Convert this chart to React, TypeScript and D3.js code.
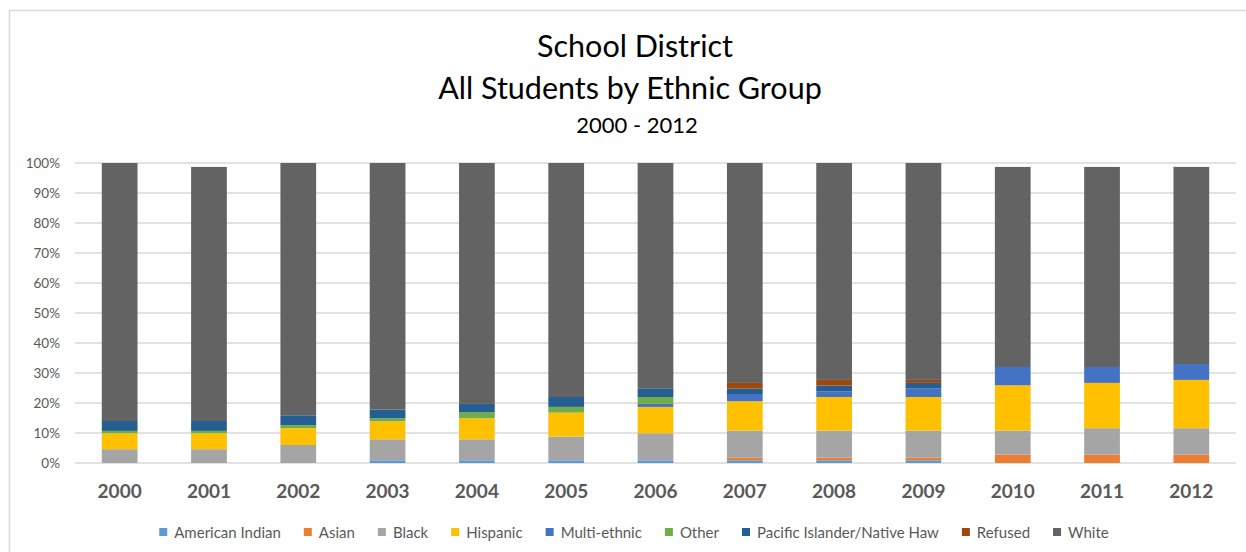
import React from "react";
import * as d3 from "d3";

const years = ["2000","2001","2002","2003","2004","2005","2006","2007","2008","2009","2010","2011","2012"];
const seriesNames = ["American Indian","Asian","Black","Hispanic","Multi-ethnic","Other","Pacific Islander/Native Haw","Refused","White"];
const seriesColors = ["#5B9BD5","#ED7D31","#A5A5A5","#FFC000","#4472C4","#70AD47","#255E91","#9E480E","#636363"];

const americanIndian = [0,0,0,0.9,0.9,0.9,0.9,0.9,0.9,0.9,0,0,0];
const asian = [0,0,0,0,0,0,0,0.9,0.9,0.9,2.8,2.8,2.8];
const black = [4.6,4.6,6,7,7,7.9,9,9,9,9,8,8.8,8.8];
const hispanic = [5.3,5.3,5.6,6,7,8,8.8,9.8,11.2,11.2,15.1,15.1,16.1];
const multiEthnic = [0,0,0,0,0,0,1,2.4,1.9,2.8,6.1,5.3,5.3];
const other = [0.8,0.8,1,1,2,1.9,2.3,0,0,0,0,0,0];
const pacific = [3.3,3.3,3.3,2.9,2.8,3.3,2.9,1.8,1.9,1.9,0,0,0];
const refused = [0,0,0,0,0,0,0,1.9,1.9,1,0,0,0];
const white = [86,84.7,84.1,82.2,80.3,78,75.1,73.3,72.3,72.3,66.7,66.7,65.7];

const yTicks = [0,10,20,30,40,50,60,70,80,90,100];

const seriesValues = [americanIndian, asian, black, hispanic, multiEthnic, other, pacific, refused, white];

const FONT = "Lato, 'Open Sans', 'Liberation Sans', sans-serif";

function measure(text: string, font: string): number {
  const c = document.createElement("canvas").getContext("2d");
  if (!c) return text.length * 7;
  c.font = font;
  return c.measureText(text).width;
}

export default function App() {
  const W = 1246, H = 552;
  const x = d3.scaleBand<string>().domain(years).range([75, 1236]).paddingInner(0.6).paddingOuter(0.3);
  const y = d3.scaleLinear().domain([0, 100]).range([463, 163]);

  const rows = years.map((yr, i) => {
    const r: any = { year: yr };
    seriesNames.forEach((s, k) => (r[s] = seriesValues[k][i]));
    return r;
  });
  const stacked = d3.stack<any>().keys(seriesNames)(rows);

  // legend layout
  const legendFontSize = 15;
  const legendFont = `${legendFontSize}px Lato, 'Open Sans', sans-serif`;
  const marker = 8, gapMT = 7, gapItems = 23;
  const widths = seriesNames.map((s) => measure(s, legendFont));
  const total = widths.reduce((a, b) => a + b, 0) + seriesNames.length * (marker + gapMT) + (seriesNames.length - 1) * gapItems;
  let lx = 634 - total / 2;
  const legendItems = seriesNames.map((s, i) => {
    const item = { name: s, color: seriesColors[i], x: lx };
    lx += marker + gapMT + widths[i] + gapItems;
    return item;
  });

  return (
    <svg width={W} height={H} style={{ position: "absolute", left: 0, top: 0, background: "#fff" }} fontFamily={FONT}>
      <rect x={9.5} y={10.5} width={1260} height={600} fill="#fff" stroke="#d9d9d9" strokeWidth={1.5} />
      <text x={635} y={57} textAnchor="middle" fontSize={30.5} fill="#000">School District</text>
      <text x={630} y={99} textAnchor="middle" fontSize={30.5} fill="#000">All Students by Ethnic Group</text>
      <text x={637} y={133} textAnchor="middle" fontSize={22} fill="#000">2000 - 2012</text>

      {yTicks.map((t) => (
        <g key={t}>
          <line x1={75} x2={1236} y1={y(t)} y2={y(t)} stroke="#d9d9d9" strokeWidth={1.3} />
          <text x={60} y={y(t) + 4.5} textAnchor="end" fontSize={13.5} fill="#595959">{t}%</text>
        </g>
      ))}

      {stacked.map((layer, k) => (
        <g key={layer.key} fill={seriesColors[k]}>
          {layer.map((d, i) =>
            d[1] - d[0] > 0 ? (
              <rect key={i} x={x(years[i])} width={x.bandwidth()} y={y(d[1])} height={y(d[0]) - y(d[1])} />
            ) : null
          )}
        </g>
      ))}

      {years.map((yr) => (
        <text key={yr} x={(x(yr) as number) + x.bandwidth() / 2} y={498} textAnchor="middle" fontSize={19} fontWeight="bold" fill="#595959">{yr}</text>
      ))}

      {legendItems.map((it) => (
        <g key={it.name}>
          <rect x={it.x} y={528} width={marker} height={marker} fill={it.color} />
          <text x={it.x + marker + gapMT} y={538} fontSize={legendFontSize} fill="#595959">{it.name}</text>
        </g>
      ))}
    </svg>
  );
}
